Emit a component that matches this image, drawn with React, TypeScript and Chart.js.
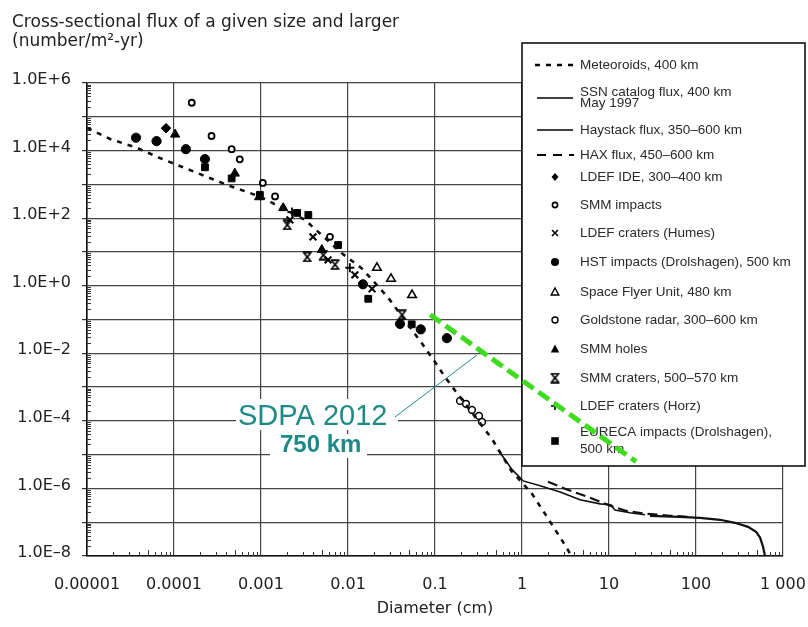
import React, { useEffect, useRef } from 'react';
import { Chart, registerables } from 'chart.js';
Chart.register(...registerables);

// ---------- axis ticks ----------
const xTickValues = [1e-5, 1e-4, 1e-3, 1e-2, 1e-1, 1, 10, 100, 1000];
const xTickLabels = ['0.00001', '0.0001', '0.001', '0.01', '0.1', '1', '10', '100', '1 000'];
const yTickValues = [1e-8, 1e-7, 1e-6, 1e-5, 1e-4, 1e-3, 1e-2, 1e-1, 1, 10, 100, 1e3, 1e4, 1e5, 1e6];
const yTickLabels = ['1.0E–8', '', '1.0E–6', '', '1.0E–4', '', '1.0E–2', '', '1.0E+0', '', '1.0E+2', '', '1.0E+4', '', '1.0E+6'];

const titleLines = ['Cross-sectional flux of a given size and larger', '(number/m²-yr)'];
const xTitle = 'Diameter (cm)';
const annotationTitle = 'SDPA 2012';
const annotationSub = '750 km';

// ---------- model curves (diameter cm, flux /m²-yr) ----------
const meteoroidD = [1e-5, 1.84e-5, 3.76e-5, 6.9e-5, 1.27e-4, 2.4e-4, 4.4e-4, 7.4e-4, 1e-3, 3.2e-3, 8.5e-3, 0.01435, 0.0288, 0.0703, 0.105, 0.13, 0.162, 0.449, 0.762, 1.29, 1.92, 2.86, 3.38, 3.7];
const meteoroidF = [4.7e4, 2.2e4, 1.2e4, 6.0e3, 3.2e3, 1.66e3, 890, 560, 420, 89, 9.1, 3.3, 0.45, 0.02, 4.6e-3, 2.0e-3, 9.3e-4, 3.0e-5, 3.2e-6, 7.2e-7, 1.5e-7, 3.0e-8, 1.5e-8, 1.0e-8];

const ssnD = [29.6, 65, 111, 189, 281, 396, 490, 545, 589, 621];
const ssnF = [1.55e-7, 1.44e-7, 1.35e-7, 1.18e-7, 9.6e-8, 7.3e-8, 5.2e-8, 3.5e-8, 1.9e-8, 1.0e-8];

const haystackD = [0.53, 0.64, 0.77, 1.03, 1.61, 2.74, 4.64, 7.9, 10.5, 11.7, 17.4, 25.9];
const haystackF = [1.38e-5, 7.1e-6, 3.6e-6, 1.67e-6, 1.2e-6, 7.9e-7, 4.6e-7, 3.5e-7, 3.3e-7, 2.3e-7, 1.9e-7, 1.66e-7];

const haxD = [1.99, 3.12, 6.05, 10.3, 15.3, 25.9, 50, 85];
const haxF = [1.57e-6, 9.8e-7, 5.3e-7, 3.1e-7, 2.2e-7, 1.8e-7, 1.55e-7, 1.44e-7];

const sdpaD = [0.088, 20.5];
const sdpaF = [0.138, 6.2e-6];

// ---------- measurements ----------
const ldefIdeD = [8.1e-5];
const ldefIdeF = [4.6e4];

const smmImpactsD = [1.6e-4, 2.7e-4, 4.6e-4, 5.7e-4, 1.05e-3, 1.45e-3, 6.2e-3];
const smmImpactsF = [2.6e5, 2.7e4, 1.1e4, 5.5e3, 1.1e3, 440, 28];

const ldefHumesD = [2.15e-3, 3.96e-3, 5.9e-3, 0.012, 0.0189];
const ldefHumesF = [89, 28, 5.8, 2.1, 0.81];

const hstD = [3.66e-5, 6.3e-5, 1.37e-4, 2.27e-4, 0.01486, 0.0396, 0.0686, 0.137];
const hstF = [2.4e4, 1.9e4, 1.1e4, 5.6e3, 1.1, 0.074, 0.051, 0.028];

const sfuD = [0.0215, 0.0312, 0.0545];
const sfuF = [3.4, 1.6, 0.53];

const goldstoneD = [0.194, 0.227, 0.266, 0.32, 0.347];
const goldstoneF = [3.9e-4, 3.2e-4, 2.1e-4, 1.4e-4, 9.3e-5];

const smmHolesD = [1.03e-4, 5.0e-4, 9.5e-4, 1.8e-3, 5.0e-3];
const smmHolesF = [3.0e4, 2.1e3, 420, 200, 11.5];

const smmCratersD = [2.0e-3, 3.4e-3, 5.2e-3, 7.1e-3, 0.0418];
const smmCratersF = [63, 7.1, 8.1, 4.2, 0.137];

const ldefHorzD = [2.27e-3, 0.0105];
const ldefHorzF = [152, 3.4];

const eurecaD = [2.27e-4, 4.6e-4, 9.7e-4, 2.6e-3, 3.5e-3, 7.7e-3, 0.0171, 0.054];
const eurecaF = [3.2e3, 1.5e3, 490, 143, 124, 16, 0.41, 0.072];

const pts = (d: number[], f: number[]) => d.map((v, i) => ({ x: v, y: f[i] }));

function makeZhe(): HTMLCanvasElement {
  const s = 11;
  const c = document.createElement('canvas');
  c.width = s; c.height = s;
  const g = c.getContext('2d')!;
  g.strokeStyle = '#000';
  g.lineWidth = 1.8;
  g.beginPath();
  g.moveTo(2.5, 2); g.lineTo(s - 2.5, s - 2);
  g.moveTo(s - 2.5, 2); g.lineTo(2.5, s - 2);
  g.moveTo(1, 1.2); g.lineTo(s - 1, 1.2);
  g.moveTo(1, s - 1.2); g.lineTo(s - 1, s - 1.2);
  g.stroke();
  return c;
}

type LegendKind = 'dash' | 'solid' | 'long' | 'diamond' | 'ocircleS' | 'x' | 'dot' | 'otri' | 'ocircle' | 'tri' | 'zhe' | 'plus' | 'square';

function drawMarker(ctx: CanvasRenderingContext2D, kind: LegendKind, x: number, y: number, zhe: HTMLCanvasElement) {
  ctx.save();
  ctx.strokeStyle = '#000';
  ctx.fillStyle = '#000';
  ctx.setLineDash([]);
  ctx.beginPath();
  switch (kind) {
    case 'dash':
      ctx.lineWidth = 2.6; ctx.setLineDash([5, 6]);
      ctx.moveTo(535, y); ctx.lineTo(574, y); ctx.stroke(); break;
    case 'solid':
      ctx.lineWidth = 1.4; ctx.moveTo(537, y); ctx.lineTo(573, y); ctx.stroke(); break;
    case 'long':
      ctx.lineWidth = 2; ctx.setLineDash([9, 7]);
      ctx.moveTo(537, y); ctx.lineTo(574, y); ctx.stroke(); break;
    case 'diamond':
      ctx.moveTo(x, y - 4); ctx.lineTo(x + 3.5, y); ctx.lineTo(x, y + 4); ctx.lineTo(x - 3.5, y); ctx.closePath(); ctx.fill(); break;
    case 'ocircleS':
      ctx.lineWidth = 1.6; ctx.arc(x, y, 2.6, 0, Math.PI * 2); ctx.stroke(); break;
    case 'ocircle':
      ctx.lineWidth = 1.4; ctx.arc(x, y, 3, 0, Math.PI * 2); ctx.stroke(); break;
    case 'x':
      ctx.lineWidth = 1.6; ctx.moveTo(x - 3, y - 3); ctx.lineTo(x + 3, y + 3); ctx.moveTo(x + 3, y - 3); ctx.lineTo(x - 3, y + 3); ctx.stroke(); break;
    case 'dot':
      ctx.arc(x, y, 4, 0, Math.PI * 2); ctx.fill(); break;
    case 'otri':
      ctx.lineWidth = 1.4; ctx.moveTo(x, y - 4); ctx.lineTo(x + 3.8, y + 3); ctx.lineTo(x - 3.8, y + 3); ctx.closePath(); ctx.stroke(); break;
    case 'tri':
      ctx.moveTo(x, y - 4.5); ctx.lineTo(x + 4.2, y + 3.5); ctx.lineTo(x - 4.2, y + 3.5); ctx.closePath(); ctx.fill(); break;
    case 'zhe':
      ctx.drawImage(zhe, x - zhe.width / 2, y - zhe.height / 2); break;
    case 'plus':
      ctx.lineWidth = 1.6; ctx.moveTo(x - 4, y); ctx.lineTo(x + 4, y); ctx.moveTo(x, y - 4); ctx.lineTo(x, y + 4); ctx.stroke(); break;
    case 'square':
      ctx.fillRect(x - 3.8, y - 3.8, 7.6, 7.6); break;
  }
  ctx.restore();
}

const legendKinds: LegendKind[] = ['dash', 'solid', 'solid', 'long', 'diamond', 'ocircleS', 'x', 'dot', 'otri', 'ocircle', 'tri', 'zhe', 'plus', 'square'];
const legendRowY = [65, 98, 130, 155, 177, 205, 233, 262, 292, 320, 349, 378, 406, 441];

export default function App() {
  const ref = useRef<HTMLCanvasElement>(null);
  useEffect(() => {
    document.body.style.margin = '0';
    const zhe = makeZhe();
    Chart.defaults.font.family = '"DejaVu Sans", sans-serif';

    const lineDs = (label: string, d: number[], f: number[], extra: any) => ({
      label, data: pts(d, f), showLine: true, pointRadius: 0, fill: false, tension: 0,
      borderColor: '#111', backgroundColor: '#111', ...extra,
    });
    const markDs = (label: string, d: number[], f: number[], extra: any) => ({
      label, data: pts(d, f), showLine: false, borderColor: '#000', backgroundColor: '#000', ...extra,
    });

    const datasets: any[] = [
      lineDs('SDPA 2012, 750 km', sdpaD, sdpaF, { borderColor: '#3edc1e', borderWidth: 5, borderDash: [13, 6], order: -1, isAnnotation: true }),
      lineDs('Meteoroids, 400 km', meteoroidD, meteoroidF, { borderWidth: 2.6, borderDash: [5, 6] }),
      lineDs('SSN catalog flux, 400 km\nMay 1997', ssnD, ssnF, { borderWidth: 2.2 }),
      lineDs('Haystack flux, 350–600 km', haystackD, haystackF, { borderWidth: 1.6 }),
      lineDs('HAX flux, 450–600 km', haxD, haxF, { borderWidth: 2.2, borderDash: [10, 5] }),
      markDs('LDEF IDE, 300–400 km', ldefIdeD, ldefIdeF, { pointStyle: 'rectRot', pointRadius: 4.8 }),
      markDs('SMM impacts', smmImpactsD, smmImpactsF, { pointStyle: 'circle', pointRadius: 3, borderWidth: 1.8, backgroundColor: '#fff' }),
      markDs('LDEF craters (Humes)', ldefHumesD, ldefHumesF, { pointStyle: 'crossRot', pointRadius: 4.8, borderWidth: 2 }),
      markDs('HST impacts (Drolshagen), 500 km', hstD, hstF, { pointStyle: 'circle', pointRadius: 4.6 }),
      markDs('Space Flyer Unit, 480 km', sfuD, sfuF, { pointStyle: 'triangle', pointRadius: 5, borderWidth: 1.5, backgroundColor: '#fff' }),
      markDs('Goldstone radar, 300–600 km', goldstoneD, goldstoneF, { pointStyle: 'circle', pointRadius: 3.4, borderWidth: 1.5, backgroundColor: '#fff' }),
      markDs('SMM holes', smmHolesD, smmHolesF, { pointStyle: 'triangle', pointRadius: 5.3 }),
      markDs('SMM craters, 500–570 km', smmCratersD, smmCratersF, { pointStyle: zhe }),
      markDs('LDEF craters (Horz)', ldefHorzD, ldefHorzF, { pointStyle: 'cross', pointRadius: 4.5, borderWidth: 1.8 }),
      markDs('EURECA impacts (Drolshagen),\n500 km', eurecaD, eurecaF, { pointStyle: 'rect', pointRadius: 4.8 }),
    ];

    const overlayPlugin = {
      id: 'overlay',
      beforeDatasetsDraw(chart: any) {
        const ctx: CanvasRenderingContext2D = chart.ctx;
        const xs = chart.scales.x;
        const ys = chart.scales.y;
        ctx.save();
        // minor ticks
        ctx.strokeStyle = '#333';
        ctx.lineWidth = 1;
        for (let e = -8; e < 6; e++) {
          for (let k = 2; k <= 9; k++) {
            const py = Math.round(ys.getPixelForValue(k * Math.pow(10, e))) + 0.5;
            ctx.beginPath(); ctx.moveTo(xs.left, py); ctx.lineTo(xs.left + 4, py); ctx.stroke();
          }
        }
        for (let e = -5; e < 3; e++) {
          for (let k = 2; k <= 9; k++) {
            const px = Math.round(xs.getPixelForValue(k * Math.pow(10, e))) + 0.5;
            ctx.beginPath(); ctx.moveTo(px, ys.bottom); ctx.lineTo(px, ys.bottom - (k === 5 ? 6 : 4)); ctx.stroke();
          }
        }
        // title
        ctx.fillStyle = '#222';
        ctx.font = '17px "DejaVu Sans"';
        ctx.textBaseline = 'alphabetic';
        ctx.textAlign = 'left';
        ctx.fillText(titleLines[0], 12, 27);
        ctx.fillText(titleLines[1], 12, 46);

        // annotation labels
        ctx.fillStyle = '#fff';
        ctx.fillRect(236, 399, 162, 31);
        ctx.fillRect(270, 434, 97, 24);
        ctx.strokeStyle = '#1d8a86';
        ctx.lineWidth = 1;
        ctx.beginPath(); ctx.moveTo(395, 417); ctx.lineTo(477, 355); ctx.stroke();
        ctx.fillStyle = '#1d8a86';
        ctx.font = '29px "Liberation Sans"';
        ctx.fillText(annotationTitle, 238, 425);
        ctx.font = 'bold 24px "Liberation Sans"';
        ctx.fillText(annotationSub, 280, 452);

        // legend box
        ctx.fillStyle = '#fff';
        ctx.fillRect(522, 43, 283, 423);
        ctx.strokeStyle = '#111';
        ctx.lineWidth = 1.6;
        ctx.strokeRect(522, 43, 283, 423);
        const items = chart.data.datasets.filter((d: any) => !d.isAnnotation);
        ctx.font = '13.5px "Liberation Sans"';
        ctx.textBaseline = 'middle';
        items.forEach((d: any, i: number) => {
          const y = legendRowY[i];
          drawMarker(ctx, legendKinds[i], 555, y, zhe);
          const lines = String(d.label).split('\n');
          ctx.fillStyle = '#2a2a2a';
          if (lines.length === 1) {
            ctx.fillText(lines[0], 580, y);
          } else {
            const gap = i === 1 ? 11 : 17;
            ctx.fillText(lines[0], 580, y - gap / 2);
            ctx.fillText(lines[1], 580, y + gap / 2);
          }
        });
        ctx.restore();
      },
    };

    const chart = new Chart(ref.current!, {
      type: 'scatter',
      data: { datasets },
      plugins: [overlayPlugin],
      options: {
        responsive: false,
        animation: false,
        devicePixelRatio: 1,
        events: [],
        layout: { padding: { top: 83, right: 25, left: 0, bottom: 0 } },
        plugins: { legend: { display: false }, title: { display: false }, tooltip: { enabled: false } },
        scales: {
          x: {
            type: 'logarithmic',
            min: 1e-5,
            max: 1000,
            afterBuildTicks: (s: any) => { s.ticks = xTickValues.map((v) => ({ value: v })); },
            afterFit: (s: any) => { s.height = 71; s.paddingLeft = 0; s.paddingRight = 0; },
            ticks: {
              autoSkip: false, maxRotation: 0, padding: 19, color: '#222',
              font: { size: 16, family: '"DejaVu Sans"' },
              callback: (_v: any, i: number) => xTickLabels[i],
            },
            grid: { color: '#444', lineWidth: 1.2, drawTicks: false },
            border: { color: '#111', width: 1.6 },
            title: { display: true, text: xTitle, color: '#222', font: { size: 16, family: '"DejaVu Sans"' }, padding: { top: 0, bottom: 9 } },
          },
          y: {
            type: 'logarithmic',
            min: 1e-8,
            max: 1e6,
            afterBuildTicks: (s: any) => { s.ticks = yTickValues.map((v) => ({ value: v })); },
            afterFit: (s: any) => { s.width = 87; s.paddingTop = 0; s.paddingBottom = 0; },
            ticks: {
              autoSkip: false, padding: 11, color: '#222', labelOffset: -3,
              font: { size: 16, family: '"DejaVu Sans"' },
              callback: (_v: any, i: number) => yTickLabels[i],
            },
            grid: { color: '#444', lineWidth: 1.2, drawTicks: true, tickLength: 5, tickColor: '#333' },
            border: { color: '#111', width: 1.6 },
          },
        },
      } as any,
    });
    return () => chart.destroy();
  }, []);
  return (
    <div style={{ width: 808, height: 627, position: 'relative' }}>
      <canvas ref={ref} width={808} height={627} style={{ display: 'block' }} />
    </div>
  );
}
